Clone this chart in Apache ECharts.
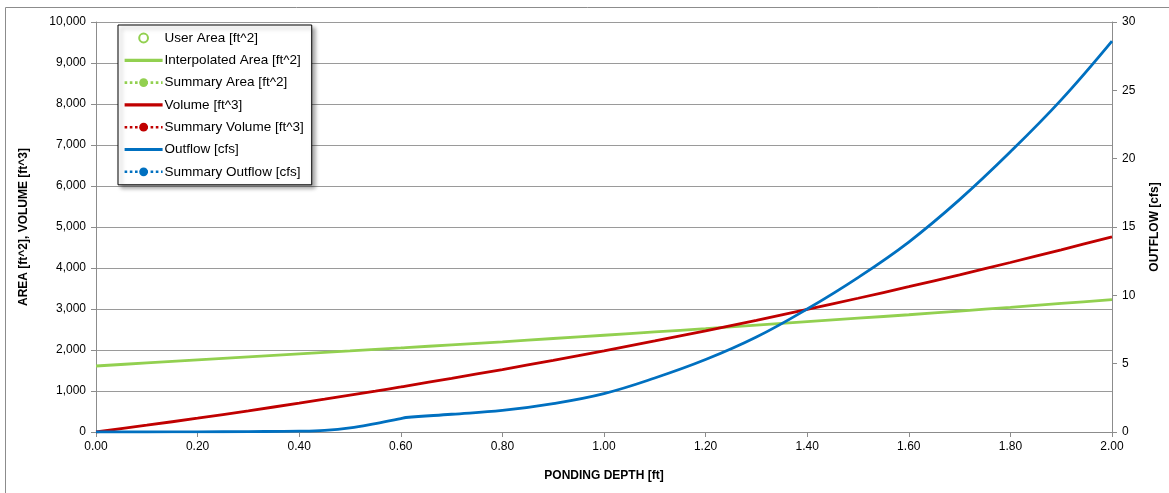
<!DOCTYPE html>
<html>
<head>
<meta charset="utf-8">
<script src="https://cdn.jsdelivr.net/npm/echarts@6/dist/echarts.min.js"></script>
<style>
html,body{margin:0;padding:0;background:#fff;}
#c{width:1169px;height:493px;}
</style>
</head>
<body>
<div id="c"></div>
<script>
var depth   = [0,0.1,0.2,0.3,0.4,0.45,0.5,0.55,0.6,0.61,0.7,0.8,0.9,1.0,1.1,1.2,1.3,1.4,1.5,1.6,1.7,1.8,1.9,2.0];
var area    = [1610,1685,1760,1832,1905,1941,1977,2014,2050,2058,2125,2200,2280,2360,2440,2520,2605,2690,2775,2860,2950,3040,3135,3230];
var volume  = [0,165,337,517,704,800,898,998,1099,1120,1308,1524,1748,1980,2220,2468,2725,2989,3262,3544,3835,4134,4443,4761];
var outflow = [0,0,0.01,0.03,0.06,0.12,0.3,0.62,0.98,1.06,1.3,1.58,2.08,2.81,3.95,5.3,6.95,9.0,11.3,13.9,17.0,20.5,24.3,28.6];
var legendNames = ['User Area [ft^2]','Interpolated Area [ft^2]','Summary Area [ft^2]','Volume [ft^3]','Summary Volume [ft^3]','Outflow [cfs]','Summary Outflow [cfs]'];
var solidSeries = {'Interpolated Area [ft^2]':1,'Volume [ft^3]':1,'Outflow [cfs]':1};
var markerOnly = {'User Area [ft^2]':1};

var GREEN='#92D050', RED='#C00000', BLUE='#0070C0';
function pairs(ys){ return depth.map(function(d,i){return [d, ys[i]];}); }
var FONT='Liberation Sans';

var chart = echarts.init(document.getElementById('c'));
chart.setOption({
  animation:false,
  textStyle:{fontFamily:FONT},
  graphic:[{type:'rect',shape:{x:5.5,y:7.5,width:1200,height:600},style:{fill:'none',stroke:'#8c8c8c',lineWidth:1},silent:true,z:-10}],
  grid:{left:96,right:56,top:22,bottom:61,containLabel:false},
  legend:{
    orient:'vertical',left:118,top:25,
    data:legendNames.map(function(n){
      if (solidSeries[n]) return {name:n,itemStyle:{opacity:0},lineStyle:{width:3.2}};
      if (markerOnly[n]) return {name:n,lineStyle:{opacity:0}};
      return {name:n,lineStyle:{width:2.6}};
    }),
    itemWidth:38,itemHeight:11,itemGap:8.3,
    padding:[6,8,6,5],
    backgroundColor:'#fff',borderColor:'#000',borderWidth:1,
    shadowColor:'rgba(0,0,0,0.35)',shadowBlur:4,shadowOffsetX:3,shadowOffsetY:3,
    textStyle:{fontFamily:FONT,fontSize:13.5,color:'#000',padding:[0,0,0,-3]},
    selectedMode:false
  },
  xAxis:{
    type:'value',min:0,max:2,interval:0.2,
    name:'PONDING DEPTH [ft]',nameLocation:'middle',nameGap:38,
    nameTextStyle:{fontFamily:FONT,fontWeight:'bold',fontSize:12,color:'#000'},
    axisLine:{show:true,lineStyle:{color:'#8c8c8c'}},
    axisTick:{show:true,length:5,lineStyle:{color:'#8c8c8c'}},
    axisLabel:{color:'#000',fontSize:12,margin:9,formatter:function(v){return v.toFixed(2);}},
    splitLine:{show:false}
  },
  yAxis:[{
    type:'value',min:0,max:10000,interval:1000,
    name:'AREA [ft^2], VOLUME [ft^3]',nameLocation:'middle',nameGap:66,nameRotate:90,
    nameTextStyle:{fontFamily:FONT,fontWeight:'bold',fontSize:12,color:'#000'},
    axisLine:{show:true,lineStyle:{color:'#8c8c8c'}},
    axisTick:{show:true,length:5,lineStyle:{color:'#8c8c8c'}},
    axisLabel:{color:'#000',fontSize:12,margin:10,formatter:function(v){return v.toLocaleString('en-US');}},
    splitLine:{show:true,lineStyle:{color:'#9a9a9a',width:1}}
  },{
    type:'value',min:0,max:30,interval:5,position:'right',
    name:'OUTFLOW [cfs]',nameLocation:'middle',nameGap:37,nameRotate:90,
    nameTextStyle:{fontFamily:FONT,fontWeight:'bold',fontSize:12,color:'#000'},
    axisLine:{show:true,lineStyle:{color:'#8c8c8c'}},
    axisTick:{show:true,length:5,lineStyle:{color:'#8c8c8c'}},
    axisLabel:{color:'#000',fontSize:12,margin:10},
    splitLine:{show:false}
  }],
  series:[
    {name:legendNames[0],type:'line',data:[],symbol:'emptyCircle',symbolSize:8,
      itemStyle:{color:GREEN,borderWidth:2},lineStyle:{width:0,color:GREEN}},
    {name:legendNames[1],type:'line',data:pairs(area),symbol:'none',smooth:0.3,
      itemStyle:{color:GREEN},lineStyle:{width:2.8,color:GREEN}},
    {name:legendNames[2],type:'line',data:[],symbol:'circle',symbolSize:10,
      itemStyle:{color:GREEN},lineStyle:{width:2.5,type:'dotted',color:GREEN}},
    {name:legendNames[3],type:'line',data:pairs(volume),symbol:'none',smooth:0.3,
      itemStyle:{color:RED},lineStyle:{width:2.8,color:RED}},
    {name:legendNames[4],type:'line',data:[],symbol:'circle',symbolSize:10,
      itemStyle:{color:RED},lineStyle:{width:2.5,type:'dotted',color:RED}},
    {name:legendNames[5],type:'line',yAxisIndex:1,data:pairs(outflow),symbol:'none',smooth:0.4,
      itemStyle:{color:BLUE},lineStyle:{width:2.8,color:BLUE}},
    {name:legendNames[6],type:'line',yAxisIndex:1,data:[],symbol:'circle',symbolSize:10,
      itemStyle:{color:BLUE},lineStyle:{width:2.5,type:'dotted',color:BLUE}}
  ]
});
</script>
</body>
</html>
